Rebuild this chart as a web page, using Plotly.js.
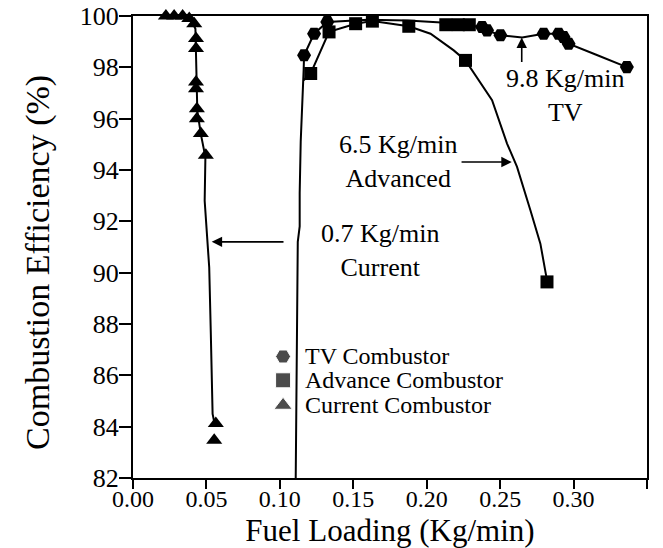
<!DOCTYPE html>
<html>
<head>
<meta charset="utf-8">
<script src="https://cdn.plot.ly/plotly-3.0.1.min.js"></script>
<style>html,body{margin:0;padding:0;background:#fff;}#chart{width:663px;height:548px;}</style>
</head>
<body>
<div id="chart"></div>
<script>
// ---- Data ----
// Marker data (Fuel loading Kg/min, Combustion efficiency %)
var tvX  = [0.1165, 0.1233, 0.1323, 0.2377, 0.2411, 0.2502, 0.2796, 0.2898, 0.2932, 0.2966, 0.3363];
var tvY  = [98.47, 99.31, 99.77, 99.57, 99.44, 99.25, 99.31, 99.31, 99.18, 98.92, 98.01];
var advX = [0.1210, 0.1335, 0.1516, 0.1630, 0.1878, 0.2130, 0.2215, 0.2290, 0.2264, 0.2819];
var advY = [97.76, 99.38, 99.70, 99.80, 99.60, 99.66, 99.66, 99.66, 98.27, 89.64];
var curX = [0.0224, 0.0280, 0.0338, 0.0383, 0.0417, 0.0429, 0.0429, 0.0429, 0.0429, 0.0435, 0.0435, 0.0462, 0.0496, 0.0564, 0.0553];
var curY = [100.0, 100.0, 100.0, 99.90, 99.70, 99.12, 98.73, 97.43, 97.17, 96.39, 96.00, 95.42, 94.57, 84.12, 83.47];

// Hand-drawn curves through the data
var tvCurveX  = [0.1108, 0.1115, 0.1122, 0.1135, 0.1135, 0.1142, 0.1156, 0.1162, 0.1165, 0.1233, 0.1323, 0.160, 0.187, 0.210, 0.2377, 0.2411, 0.2502, 0.265, 0.2796, 0.2898, 0.2932, 0.2966, 0.315, 0.3363];
var tvCurveY  = [82.0, 88.0, 91.2, 91.8, 93.1, 95.1, 96.7, 97.9, 98.47, 99.31, 99.77, 99.85, 99.82, 99.75, 99.57, 99.44, 99.25, 99.16, 99.31, 99.31, 99.18, 98.92, 98.50, 98.01];
var advCurveX = [0.1162, 0.1210, 0.1335, 0.1516, 0.1630, 0.1878, 0.2026, 0.2184, 0.2264, 0.2388, 0.2445, 0.2547, 0.2615, 0.2706, 0.2774, 0.2815, 0.2819];
var advCurveY = [97.5, 97.76, 99.38, 99.70, 99.80, 99.60, 99.31, 98.66, 98.27, 97.23, 96.72, 95.03, 94.12, 92.43, 91.13, 89.83, 89.64];
var curCurveX = [0.0224, 0.0300, 0.0360, 0.0400, 0.0425, 0.0430, 0.0432, 0.0438, 0.0462, 0.0493, 0.0488, 0.0519, 0.0530, 0.0542, 0.0556];
var curCurveY = [100.0, 100.0, 99.95, 99.80, 99.50, 98.50, 97.30, 96.30, 95.40, 94.50, 92.80, 90.20, 87.60, 84.50, 84.10];

var seriesNames = ['TV Combustor', 'Advance Combustor', 'Current Combustor'];
var xTitle = 'Fuel Loading (Kg/min)';
var yTitle = 'Combustion Efficiency (%)';

// ---- Styling ----
var FONT = 'Liberation Serif';
var K = 'black';

function curve(x, y) {
  return {x: x, y: y, mode: 'lines', type: 'scatter', line: {color: K, width: 2}, showlegend: false, hoverinfo: 'skip', cliponaxis: false};
}
function pts(x, y, sym, size) {
  return {x: x, y: y, mode: 'markers', type: 'scatter', marker: {symbol: sym, size: size, color: K}, showlegend: false, cliponaxis: false};
}

var traces = [
  curve(tvCurveX, tvCurveY),
  curve(advCurveX, advCurveY),
  curve(curCurveX, curCurveY),
  pts(tvX, tvY, 'hexagon2', 14),
  pts(advX, advY, 'square', 13),
  pts(curX, curY, 'triangle-up', 14),
  // legend key symbols on an overlay 0-1 axis
  {x: [0.292, 0.292, 0.292], y: [0.263, 0.2115, 0.1574], xaxis: 'x2', yaxis: 'y2', mode: 'markers', type: 'scatter',
   marker: {symbol: ['hexagon2', 'square', 'triangle-up'], size: [15, 15, 16], color: K}, showlegend: false, cliponaxis: false, hoverinfo: 'skip'}
];

function label(text, x, y) {
  return {text: text, x: x, y: y, xref: 'x', yref: 'y', showarrow: false, xanchor: 'center', yanchor: 'middle',
          font: {family: FONT, size: 26, color: K}, align: 'center'};
}
function arrow(x, y, ax, ay) {
  return {text: '', x: x, y: y, ax: ax, ay: ay, xref: 'x', yref: 'y', axref: 'x', ayref: 'y', showarrow: true,
          arrowhead: 2, arrowsize: 1.3, arrowwidth: 1.6, arrowcolor: K, standoff: 0, startstandoff: 0};
}
function legText(text, y) {
  return {text: text, x: 0.331, y: y, xref: 'x2', yref: 'y2', showarrow: false, xanchor: 'left', yanchor: 'middle',
          font: {family: FONT, size: 24, color: K}};
}

var layout = {
  width: 663, height: 548,
  margin: {l: 133, r: 16, t: 16, b: 70},
  paper_bgcolor: 'white', plot_bgcolor: 'white',
  font: {family: FONT, size: 24, color: K},
  showlegend: false,
  xaxis: {
    range: [0, 0.35], dtick: 0.05, tick0: 0, tickformat: '.2f',
    showline: true, mirror: true, linecolor: K, linewidth: 2,
    ticks: 'outside', ticklen: 9, tickwidth: 2, tickcolor: K,
    ticklabelstandoff: -11,
    showgrid: false, zeroline: false,
    tickfont: {family: FONT, size: 24, color: K},
    title: {text: xTitle, font: {family: FONT, size: 31, color: K}, standoff: 9}
  },
  yaxis: {
    range: [82, 100], dtick: 2, tick0: 82,
    showline: true, mirror: true, linecolor: K, linewidth: 2,
    ticks: 'outside', ticklen: 12, tickwidth: 2, tickcolor: K,
    ticklabelstandoff: -5,
    showgrid: false, zeroline: false,
    tickfont: {family: FONT, size: 26, color: K}
  },
  xaxis2: {overlaying: 'x', anchor: 'y2', range: [0, 1], visible: false, fixedrange: true},
  yaxis2: {overlaying: 'y', anchor: 'x2', range: [0, 1], visible: false, fixedrange: true},
  annotations: [
    {text: yTitle, xref: 'paper', yref: 'paper', x: -0.1848, y: 0.4654, textangle: -90, showarrow: false,
     xanchor: 'center', yanchor: 'middle', font: {family: FONT, size: 34, color: K}},
    label('9.8 Kg/min<br>TV', 0.2942, 96.91),
    label('6.5 Kg/min<br>Advanced', 0.1805, 94.34),
    label('0.7 Kg/min<br>Current', 0.1682, 90.87),
    arrow(0.2647, 99.16, 0.2647, 98.15),
    arrow(0.2579, 94.31, 0.2227, 94.31),
    arrow(0.0536, 91.2, 0.1035, 91.2),
    legText(seriesNames[0], 0.263),
    legText(seriesNames[1], 0.2115),
    legText(seriesNames[2], 0.1574)
  ]
};

Plotly.newPlot('chart', traces, layout, {displayModeBar: false});
</script>
</body>
</html>
